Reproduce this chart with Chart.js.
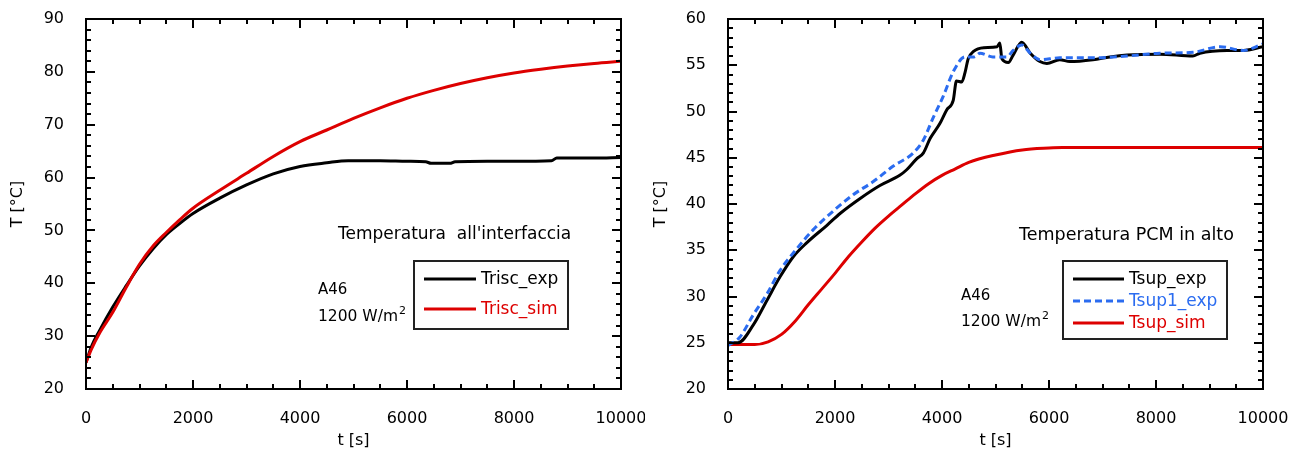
<!DOCTYPE html>
<html>
<head>
<meta charset="utf-8">
<script src="https://cdn.jsdelivr.net/npm/chart.js@4.4.1/dist/chart.umd.min.js"></script>
<style>
    body { margin: 0; background: #fff; }
    .panel { position: absolute; top: 0; height: 450px; }
</style>
</head>
<body>
<div class="panel" style="left:0;width:645px"><canvas id="interfaccia"></canvas></div>
<div class="panel" style="left:645px;width:646px"><canvas id="pcmAlto"></canvas></div>
<script>
// ---- left panel: temperatura all'interfaccia ----
var triscExpTime = [0, 100, 250, 500, 750, 1000, 1250, 1500, 1750, 2000, 2500, 3000, 3500, 4000, 4500, 4900, 5500, 6000, 6350, 6450, 6800, 6900, 7500, 8000, 8700, 8800, 9500, 10000];
var triscExpTemp = [25.0, 28.0, 31.0, 35.5, 39.5, 43.3, 46.5, 49.2, 51.3, 53.2, 56.1, 58.6, 60.7, 62.1, 62.8, 63.2, 63.2, 63.1, 63.0, 62.7, 62.7, 63.0, 63.1, 63.1, 63.2, 63.7, 63.7, 63.8];
var triscSimTime = [0, 100, 250, 500, 750, 1000, 1250, 1500, 1750, 2000, 2500, 3000, 3500, 4000, 4500, 5000, 5500, 6000, 6500, 7000, 7500, 8000, 8500, 9000, 9500, 10000];
var triscSimTemp = [25.0, 27.5, 30.5, 34.5, 39.2, 43.6, 47.0, 49.6, 52.0, 54.2, 57.6, 60.8, 64.0, 66.8, 69.0, 71.2, 73.2, 75.0, 76.5, 77.8, 78.9, 79.8, 80.5, 81.1, 81.6, 82.0];

// ---- right panel: temperatura PCM in alto ----
var tsupExpTime = [0, 190, 470, 730, 970, 1220, 1470, 1850, 2100, 2470, 2840, 3210, 3340, 3530, 3650, 3780, 3960, 4090, 4210, 4270, 4370, 4430, 4490, 4590, 4780, 5030, 5080, 5120, 5240, 5330, 5490, 5650, 5830, 5960, 6200, 6390, 6820, 7140, 7460, 8070, 8690, 8820, 9330, 9630, 10000];
var tsupExpTemp = [25.0, 25.0, 26.9, 29.6, 32.1, 34.3, 35.8, 37.7, 39.0, 40.6, 42.0, 43.1, 43.7, 44.9, 45.5, 47.1, 48.7, 50.2, 51.2, 53.3, 53.2, 54.2, 55.7, 56.5, 56.9, 57.0, 57.4, 55.7, 55.3, 56.1, 57.5, 56.3, 55.4, 55.2, 55.6, 55.4, 55.6, 55.9, 56.1, 56.2, 56.0, 56.3, 56.6, 56.6, 57.0];
var tsup1ExpTime = [0, 220, 470, 730, 970, 1220, 1590, 1960, 2340, 2710, 3090, 3460, 3650, 3840, 4020, 4210, 4430, 4600, 4710, 4950, 5210, 5330, 5490, 5650, 5830, 6200, 6820, 7460, 8070, 8690, 9200, 9630, 10000];
var tsup1ExpTemp = [24.7, 25.6, 28.0, 30.3, 32.8, 34.7, 37.2, 39.2, 41.0, 42.4, 44.1, 45.5, 46.9, 49.4, 51.6, 54.3, 55.9, 55.9, 56.3, 55.9, 55.9, 56.6, 57.2, 56.3, 55.6, 55.8, 55.8, 56.0, 56.3, 56.4, 57.0, 56.6, 57.3];
var tsupSimTime = [0, 500, 750, 1000, 1250, 1500, 1750, 2000, 2250, 2500, 2750, 3000, 3250, 3500, 3750, 4000, 4250, 4500, 5000, 5500, 6000, 6250, 10000];
var tsupSimTemp = [24.8, 24.8, 25.1, 25.9, 27.3, 29.1, 30.8, 32.5, 34.3, 35.9, 37.4, 38.7, 39.9, 41.1, 42.2, 43.1, 43.8, 44.5, 45.3, 45.85, 46.05, 46.1, 46.1];

// tick values
var xTicks = [0, 2000, 4000, 6000, 8000, 10000];
var leftYTicks = [20, 30, 40, 50, 60, 70, 80, 90];
var rightYTicks = [20, 25, 30, 35, 40, 45, 50, 55, 60];
var xMinorStep = 500;
var leftYMinorStep = 2;
var rightYMinorStep = 1;

var FONT = 'DejaVu Sans';
var RED = '#dd0000';
var BLUE = '#2b6cf0';
Chart.defaults.font.family = FONT;
Chart.defaults.color = '#000';

function points(t, v) {
    return t.map(function(x, i) { return { x: x, y: v[i] }; });
}

// frame + inward ticks on all four sides
var frameTicks = {
    id: 'frameTicks',
    afterDatasetsDraw: function(chart, args, o) {
        var a = chart.chartArea, ctx = chart.ctx;
        var xs = chart.scales.x, ys = chart.scales.y;
        ctx.save();
        ctx.strokeStyle = '#000';
        ctx.lineWidth = 2;
        ctx.beginPath();
        var v, p, len;
        for (v = xs.min; v <= xs.max + 1e-9; v += o.xMinor) {
            p = Math.round(xs.getPixelForValue(v));
            len = o.xMajor.indexOf(v) >= 0 ? 9 : 5;
            ctx.moveTo(p, a.bottom); ctx.lineTo(p, a.bottom - len);
            ctx.moveTo(p, a.top); ctx.lineTo(p, a.top + len);
        }
        for (v = ys.min; v <= ys.max + 1e-9; v += o.yMinor) {
            v = Math.round(v * 1000) / 1000;
            p = Math.round(ys.getPixelForValue(v));
            len = o.yMajor.indexOf(v) >= 0 ? 9 : 5;
            ctx.moveTo(a.left, p); ctx.lineTo(a.left + len, p);
            ctx.moveTo(a.right, p); ctx.lineTo(a.right - len, p);
        }
        ctx.stroke();
        ctx.strokeRect(Math.round(a.left), Math.round(a.top), Math.round(a.right - a.left), Math.round(a.bottom - a.top));
        ctx.restore();
    }
};

// boxed legend drawn inside the plot
var legendBox = {
    id: 'legendBox',
    afterDraw: function(chart, args, o) {
        var ctx = chart.ctx;
        ctx.save();
        ctx.strokeStyle = '#222';
        ctx.lineWidth = 2;
        ctx.strokeRect(o.box[0], o.box[1], o.box[2], o.box[3]);
        ctx.font = '17px "' + FONT + '"';
        ctx.textBaseline = 'middle';
        chart.data.datasets.forEach(function(ds, i) {
            var y = o.rows[i];
            ctx.strokeStyle = ds.borderColor;
            ctx.lineWidth = 3;
            ctx.setLineDash(ds.borderDash || []);
            ctx.beginPath();
            ctx.moveTo(o.lineX[0], y);
            ctx.lineTo(o.lineX[1], y);
            ctx.stroke();
            ctx.setLineDash([]);
            ctx.fillStyle = ds.borderColor;
            ctx.fillText(ds.label, o.textX, y + 1);
        });
        ctx.restore();
    }
};

// free text notes
var notes = {
    id: 'notes',
    afterDraw: function(chart, args, o) {
        var ctx = chart.ctx;
        ctx.save();
        ctx.fillStyle = '#000';
        ctx.textBaseline = 'middle';
        o.items.forEach(function(it) {
            ctx.font = it.size + 'px "' + FONT + '"';
            ctx.fillText(it.text, it.x, it.y);
            if (it.sup) {
                var w = ctx.measureText(it.text).width;
                ctx.font = '11px "' + FONT + '"';
                ctx.fillText(it.sup, it.x + w + 1, it.y - 6);
            }
        });
        ctx.restore();
    }
};

function makeChart(id, datasets, cfg) {
    var tickFont = { family: FONT, size: 16 };
    return new Chart(document.getElementById(id).getContext('2d'), {
        type: 'line',
        data: { datasets: datasets },
        options: {
            responsive: true,
            maintainAspectRatio: false,
            animation: false,
            layout: { padding: { left: 0, right: cfg.padRight, top: 19, bottom: 0 } },
            elements: { point: { radius: 0 }, line: { borderWidth: 3, cubicInterpolationMode: 'monotone' } },
            plugins: {
                legend: { display: false },
                tooltip: { enabled: false },
                frameTicks: { xMajor: xTicks, xMinor: xMinorStep, yMajor: cfg.yTicks, yMinor: cfg.yMinor },
                legendBox: cfg.legend,
                notes: { items: cfg.notes }
            },
            scales: {
                x: {
                    type: 'linear',
                    min: 0, max: 10000,
                    grid: { display: false },
                    border: { display: false },
                    afterBuildTicks: function(s) { s.ticks = xTicks.map(function(v) { return { value: v }; }); },
                    afterFit: function(s) { s.height = 61; s.paddingLeft = 0; s.paddingRight = 0; },
                    ticks: { padding: 12, color: '#000', font: tickFont, maxRotation: 0, autoSkip: false,
                             callback: function(v) { return String(v); } },
                    title: { display: true, text: 't [s]', color: '#000', font: tickFont, padding: { top: 0, bottom: 0 } }
                },
                y: {
                    type: 'linear',
                    min: cfg.yTicks[0], max: cfg.yTicks[cfg.yTicks.length - 1],
                    grid: { display: false },
                    border: { display: false },
                    afterBuildTicks: function(s) { s.ticks = cfg.yTicks.map(function(v) { return { value: v }; }); },
                    afterFit: function(s) { s.width = cfg.yWidth; s.paddingTop = 0; s.paddingBottom = 0; },
                    ticks: { padding: 14, color: '#000', font: tickFont, autoSkip: false,
                             callback: function(v) { return String(v); } },
                    title: { display: true, text: 'T [°C]', color: '#000', font: tickFont, padding: { top: cfg.titlePad, bottom: 0 } }
                }
            }
        },
        plugins: [frameTicks, legendBox, notes]
    });
}

makeChart('interfaccia', [
    { label: 'Trisc_exp', data: points(triscExpTime, triscExpTemp), borderColor: '#000', order: 1 },
    { label: 'Trisc_sim', data: points(triscSimTime, triscSimTemp), borderColor: RED, order: 0 }
], {
    yTicks: leftYTicks, yMinor: leftYMinorStep, yWidth: 86, padRight: 24, titlePad: 8,
    legend: { box: [414, 261, 154, 68], rows: [279, 309], lineX: [424, 476], textX: 481 },
    notes: [
        { text: "Temperatura  all'interfaccia", size: 17, x: 338, y: 235 },
        { text: 'A46', size: 15, x: 318, y: 290 },
        { text: '1200 W/m', sup: '2', size: 15.5, x: 318, y: 317 }
    ]
});

makeChart('pcmAlto', [
    { label: 'Tsup_exp', data: points(tsupExpTime, tsupExpTemp), borderColor: '#000', order: 1 },
    { label: 'Tsup1_exp', data: points(tsup1ExpTime, tsup1ExpTemp), borderColor: BLUE, borderDash: [7, 4], order: 0 },
    { label: 'Tsup_sim', data: points(tsupSimTime, tsupSimTemp), borderColor: RED, order: 2 }
], {
    yTicks: rightYTicks, yMinor: rightYMinorStep, yWidth: 83, padRight: 28, titlePad: 6,
    legend: { box: [418, 261, 164, 78], rows: [279, 301, 323], lineX: [428, 479], textX: 484 },
    notes: [
        { text: 'Temperatura PCM in alto', size: 17.5, x: 374, y: 235 },
        { text: 'A46', size: 15, x: 316, y: 296 },
        { text: '1200 W/m', sup: '2', size: 15.5, x: 316, y: 322 }
    ]
});
</script>
</body>
</html>
